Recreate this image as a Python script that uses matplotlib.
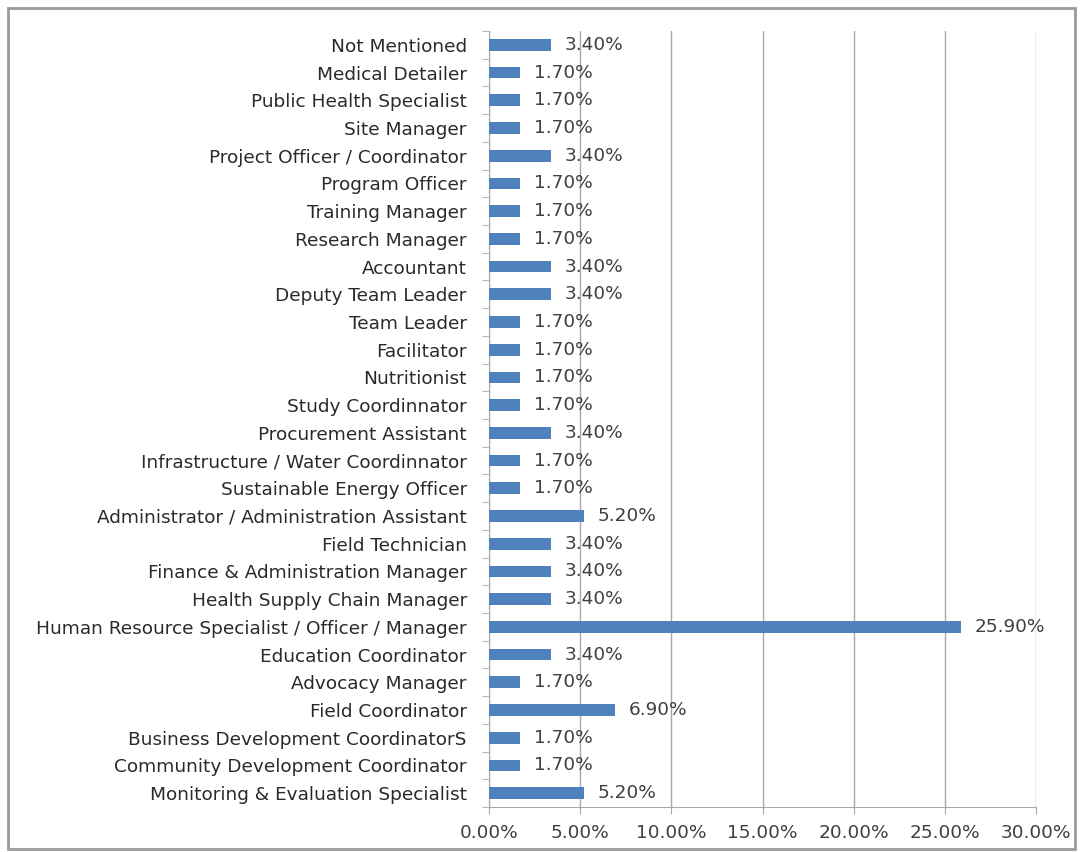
import matplotlib
matplotlib.use("Agg")
import matplotlib.pyplot as plt
from matplotlib.patches import Rectangle
from matplotlib.ticker import FixedLocator, FuncFormatter

categories = [
    "Monitoring & Evaluation Specialist",
    "Community Development Coordinator",
    "Business Development CoordinatorS",
    "Field Coordinator",
    "Advocacy Manager",
    "Education Coordinator",
    "Human Resource Specialist / Officer / Manager",
    "Health Supply Chain Manager",
    "Finance & Administration Manager",
    "Field Technician",
    "Administrator / Administration Assistant",
    "Sustainable Energy Officer",
    "Infrastructure / Water Coordinnator",
    "Procurement Assistant",
    "Study Coordinnator",
    "Nutritionist",
    "Facilitator",
    "Team Leader",
    "Deputy Team Leader",
    "Accountant",
    "Research Manager",
    "Training Manager",
    "Program Officer",
    "Project Officer / Coordinator",
    "Site Manager",
    "Public Health Specialist",
    "Medical Detailer",
    "Not Mentioned",
]
values = [5.2, 1.7, 1.7, 6.9, 1.7, 3.4, 25.9, 3.4, 3.4, 3.4, 5.2, 1.7, 1.7, 3.4,
          1.7, 1.7, 1.7, 1.7, 3.4, 3.4, 1.7, 1.7, 1.7, 3.4, 1.7, 1.7, 1.7, 3.4]
xticks = [0, 5, 10, 15, 20, 25, 30]

plt.rcParams['font.family'] = ['DejaVu Sans']
fig = plt.figure(figsize=(10.88, 8.52), dpi=100)
fig.patches.append(Rectangle((8/1088, 1 - 849/852), (1075-8)/1088, (849-8)/852,
                             transform=fig.transFigure, fill=False,
                             edgecolor='#9a9a9a', linewidth=2))
ax = fig.add_axes([489/1088, 1 - 807/852, (1036-489)/1088, (807-31)/852])

FS = 13.3
y = list(range(len(categories)))
ax.barh(y, values, height=0.42, color='#4F81BD', zorder=3)
for yi, v in zip(y, values):
    ax.text(v + 0.75, yi, f"{v:.2f}%", va='center', ha='left', fontsize=FS,
            color='#404040', zorder=4)

ax.set_xlim(0, 30)
ax.set_ylim(-0.5, len(categories) - 0.5)
ax.set_xticks(xticks)
ax.xaxis.set_major_formatter(FuncFormatter(lambda v, p: f"{v:.2f}%"))
ax.grid(axis='x', color='#a8a8a8', linewidth=1, zorder=0)
ax.set_yticks(y)
ax.set_yticklabels(categories)
ax.yaxis.set_minor_locator(FixedLocator([i - 0.5 for i in range(len(categories) + 1)]))
ax.tick_params(axis='y', which='major', length=0, pad=16, labelsize=FS, labelcolor='#2a2a2a')
ax.tick_params(axis='y', which='minor', length=5, color='#a8a8a8')
ax.tick_params(axis='x', which='major', length=5, color='#a8a8a8', pad=7,
               labelsize=FS, labelcolor='#404040')
for s in ['top', 'right']:
    ax.spines[s].set_visible(False)
for s in ['left', 'bottom']:
    ax.spines[s].set_color('#a8a8a8')

fig.savefig("out.png", dpi=100)
